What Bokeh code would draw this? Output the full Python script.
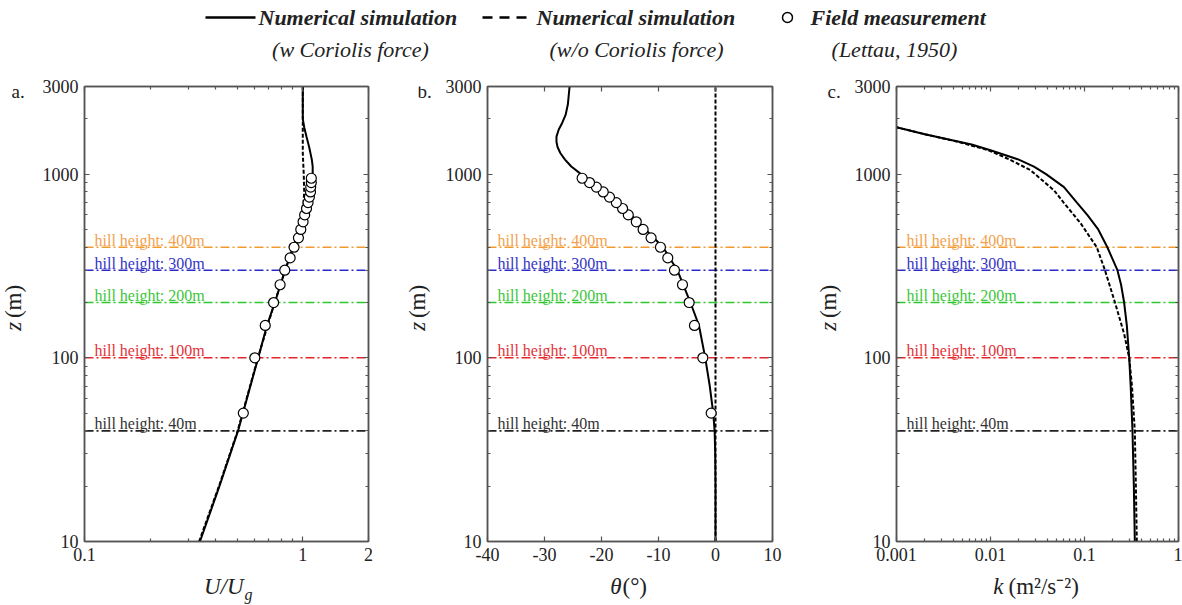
from math import pi
from bokeh.plotting import figure
from bokeh.layouts import column, row
from bokeh.models import Range1d, FixedTicker, LogAxis, LinearAxis, Span, CustomJSTickFormatter
from bokeh.core.properties import value
from bokeh.embed import file_html
from bokeh.resources import INLINE

FONT = "Liberation Serif"

# ---------------- data ----------------
hill_heights = [400, 300, 200, 100, 40]
hill_labels = ["hill height: 400m", "hill height: 300m", "hill height: 200m",
               "hill height: 100m", "hill height: 40m"]
hill_colors = ["#F39A2E", "#2A2AC8", "#2EC82E", "#E4262B", "#222222"]
hill_text_colors = ["#F2A24E", "#3535C4", "#3CC63C", "#E4333A", "#333333"]

z_range = (10, 3000)
z_ticks = [10, 100, 1000, 3000]
z_tick_labels = ["10", "100", "1000", "3000"]
z_minor = [20, 30, 40, 50, 60, 70, 80, 90, 200, 300, 400, 500, 600, 700, 800, 900, 2000]

# panel a: U/Ug
a_range = (0.1, 2)
a_ticks = [0.1, 1, 2]
a_tick_labels = ["0.1", "1", "2"]
a_minor = [0.2, 0.3, 0.4, 0.5, 0.6, 0.7, 0.8, 0.9]
a_z_cor = [10, 20, 40, 70, 100, 150, 200, 300, 400, 500, 600, 700, 800, 900, 1000, 1100,
           1200, 1400, 1600, 1800, 2000, 2500, 3000]
a_u_cor = [0.338, 0.415, 0.505, 0.575, 0.625, 0.685, 0.745, 0.83, 0.905, 0.965, 1.02, 1.06,
           1.085, 1.10, 1.11, 1.11, 1.10, 1.07, 1.04, 1.015, 1.0, 1.0, 1.0]
a_z_nocor = [10, 20, 40, 100, 200, 300, 400, 500, 600, 800, 1000, 1300, 1600, 2000, 3000]
a_u_nocor = [0.335, 0.413, 0.503, 0.623, 0.743, 0.83, 0.905, 0.965, 1.0, 1.015, 1.01,
             1.0, 1.0, 1.0, 1.0]

# field measurement (Lettau, 1950)
obs_z = [50, 100, 150, 200, 250, 300, 350, 400, 450, 500, 550, 600, 650, 700, 750, 800,
         850, 900, 950]
obs_u = [0.534, 0.603, 0.673, 0.735, 0.787, 0.827, 0.875, 0.912, 0.955, 0.979, 1.003, 1.02,
         1.04, 1.057, 1.072, 1.085, 1.087, 1.094, 1.094]
obs_theta = [-0.76, -2.22, -3.69, -4.62, -5.79, -7.2, -8.37, -9.66, -11.3, -12.7, -13.9,
             -15.3, -16.3, -17.4, -18.6, -19.7, -20.9, -22.1, -23.4]

# panel b: theta
b_range = (-40, 10)
b_ticks = [-40, -30, -20, -10, 0, 10]
b_tick_labels = ["-40", "-30", "-20", "-10", "0", "10"]
b_z_cor = [10, 20, 30, 40, 50, 70, 100, 150, 200, 300, 400, 500, 600, 700, 800, 900, 950,
           1000, 1100, 1200, 1300, 1400, 1500, 1600, 1750, 1900, 2100, 2400, 3000]
b_t_cor = [0.0, 0.0, -0.05, -0.15, -0.4, -1.0, -1.8, -2.9, -4.4, -6.7, -9.2, -12.3, -14.8,
           -17.0, -19.3, -21.6, -22.6, -23.6, -25.3, -26.4, -27.2, -27.7, -27.9, -27.9,
           -27.5, -26.9, -26.3, -25.9, -25.6]
b_z_nocor = [10, 3000]
b_t_nocor = [0.0, 0.0]

# panel c: k
c_range = (0.001, 1)
c_ticks = [0.001, 0.01, 0.1, 1]
c_tick_labels = ["0.001", "0.01", "0.1", "1"]
c_minor = [0.002, 0.003, 0.004, 0.005, 0.006, 0.007, 0.008, 0.009,
           0.02, 0.03, 0.04, 0.05, 0.06, 0.07, 0.08, 0.09,
           0.2, 0.3, 0.4, 0.5, 0.6, 0.7, 0.8, 0.9]
c_z_cor = [10, 20, 40, 70, 100, 150, 200, 250, 300, 400, 500, 600, 700, 850, 1000, 1100,
           1200, 1350, 1450, 1550, 1650, 1800]
c_k_cor = [0.343, 0.335, 0.324, 0.31, 0.299, 0.282, 0.264, 0.245, 0.224, 0.175, 0.14, 0.107,
           0.083, 0.0605, 0.039, 0.029, 0.02, 0.01, 0.0063, 0.0035, 0.002, 0.001]
c_z_nocor = [10, 20, 40, 70, 100, 135, 200, 300, 400, 540, 700, 815, 1050, 1200, 1350, 1500,
             1650, 1800]
c_k_nocor = [0.36, 0.352, 0.343, 0.32, 0.299, 0.264, 0.211, 0.165, 0.135, 0.091, 0.06,
             0.0475, 0.0267, 0.016, 0.0095, 0.0045, 0.002, 0.001]

# ---------------- helpers ----------------
AX_COLOR = "#555555"
TXT = "#222222"
PANEL_H = 501


def style_axis(ax, show_labels=True):
    ax.major_tick_in = 5
    ax.major_tick_out = 0
    ax.minor_tick_in = 3
    ax.minor_tick_out = 0
    ax.axis_line_color = AX_COLOR
    ax.axis_line_width = 1.5
    ax.major_tick_line_color = AX_COLOR
    ax.minor_tick_line_color = AX_COLOR
    ax.major_tick_line_width = 1.2
    ax.minor_tick_line_width = 1.2
    ax.major_label_text_font = FONT
    ax.major_label_text_font_size = "18px"
    ax.major_label_text_color = TXT
    if show_labels:
        ax.major_label_standoff = 6
    else:
        ax.major_label_standoff = 0
        ax.formatter = CustomJSTickFormatter(code="return ''")


def make_panel(width, bl, br, x_type, xr, xticks, xlabels, xminor):
    xlog = x_type == "log"
    p = figure(width=width, height=PANEL_H, x_axis_type=x_type, y_axis_type="log",
               x_range=Range1d(*xr), y_range=Range1d(*z_range),
               output_backend="svg", toolbar_location=None,
               min_border_left=bl, min_border_right=br, min_border_top=16,
               min_border_bottom=30)
    p.grid.visible = False
    p.outline_line_color = AX_COLOR
    p.outline_line_width = 1.5

    p.xaxis[0].ticker = FixedTicker(ticks=xticks, minor_ticks=xminor)
    p.xaxis[0].major_label_overrides = dict(zip(xticks, xlabels))
    p.yaxis[0].ticker = FixedTicker(ticks=z_ticks, minor_ticks=z_minor)
    p.yaxis[0].major_label_overrides = dict(zip(z_ticks, z_tick_labels))
    style_axis(p.xaxis[0])
    style_axis(p.yaxis[0])

    XA = LogAxis if xlog else LinearAxis
    top = XA(ticker=FixedTicker(ticks=xticks, minor_ticks=xminor))
    style_axis(top, show_labels=False)
    p.add_layout(top, "above")
    right = LogAxis(ticker=FixedTicker(ticks=z_ticks, minor_ticks=z_minor))
    style_axis(right, show_labels=False)
    p.add_layout(right, "right")

    for h, c in zip(hill_heights, hill_colors):
        p.add_layout(Span(location=h, dimension="width", line_color=c, line_width=1.6,
                          line_dash="9 3 2 3", level="underlay"))
    p.text(x=[xr[0]] * len(hill_heights), y=hill_heights, text=hill_labels,
           text_color=hill_text_colors, text_font=value(FONT), text_font_size="16px",
           text_baseline="alphabetic", x_offset=10, y_offset=-7)
    return p


def curves(p, xc, zc, xn, zn, xo=None, zo=None):
    p.line(xn, zn, line_color="black", line_width=2, line_dash="4 2")
    p.line(xc, zc, line_color="black", line_width=2)
    if xo is not None:
        p.scatter(xo, zo, marker="circle", size=10, fill_color="white",
                  line_color="black", line_width=1.2)


def strip(width, height):
    # plain text canvas: x right, y down, in pixels
    s = figure(width=width, height=height, x_range=Range1d(0, width),
               y_range=Range1d(height, 0), output_backend="svg", toolbar_location=None,
               min_border=0, x_axis_location=None, y_axis_location=None)
    s.grid.visible = False
    s.outline_line_color = None
    return s


def put(s, txt, x, y, style="normal", size="23px", align="left", angle=0.0,
        baseline="middle"):
    s.text(x=[x], y=[y], text=[txt], angle=angle, text_align=align,
           text_baseline=baseline, text_font=value(FONT), text_font_style=style,
           text_font_size=size, text_color=TXT)


def left_strip(width, letter, letter_x, zx):
    s = strip(width, PANEL_H)
    put(s, letter, letter_x, 5, size="19px")
    put(s, "z", zx, 269, style="italic", angle=pi / 2)
    put(s, "(m)", zx, 255, angle=pi / 2)
    return s


# ---------------- panels ----------------
pa = make_panel(351, 44, 22, "log", a_range, a_ticks, a_tick_labels, a_minor)
curves(pa, a_u_cor, a_z_cor, a_u_nocor, a_z_nocor, obs_u, obs_z)
pb = make_panel(344, 49, 10, "linear", b_range, b_ticks, b_tick_labels, [])
curves(pb, b_t_cor, b_z_cor, b_t_nocor, b_z_nocor, obs_theta, obs_z)
pc = make_panel(334, 48, 4, "log", c_range, c_ticks, c_tick_labels, c_minor)
curves(pc, c_k_cor, c_z_cor, c_k_nocor, c_z_nocor)

sa = left_strip(39, "a.", 11, 13)
sb = left_strip(48, "b.", 27, 27)
sc = left_strip(66, "c.", 45, 46)

# ---------------- x-axis titles ----------------
bottom = strip(1182, 34)
put(bottom, "U/U", 243, 15, style="italic", align="right")
put(bottom, "g", 244, 23, style="italic", size="16px")
put(bottom, "\u03b8", 621, 15, style="italic", align="right")
put(bottom, "(\u00b0)", 622, 15)
put(bottom, "k", 1003, 15, style="italic", align="right")
put(bottom, "(m\u00b2/s\u207b\u00b2)", 1008, 15)

# ---------------- legend strip ----------------
lg = strip(1182, 70)
lg.line([205, 255], [17, 17], line_color="black", line_width=2.5)
lg.line([482, 528], [17, 17], line_color="black", line_width=2.5, line_dash="10 7")
lg.scatter([787], [17], marker="circle", size=10, fill_color="white", line_color="black",
           line_width=1.5)
legend_items = [("Numerical simulation", 258, "(w Coriolis force)", 350),
                ("Numerical simulation", 536, "(w/o Coriolis force)", 636),
                ("Field measurement", 810, "(Lettau, 1950)", 894)]
for title, tx, sub, sx in legend_items:
    put(lg, title, tx, 17, style="bold italic", size="22px")
    put(lg, sub, sx, 49, style="italic", size="22px", align="center")

layout = column(lg, row(sa, pa, sb, pb, sc, pc), bottom)
open("out.html", "w").write(file_html(layout, INLINE))
